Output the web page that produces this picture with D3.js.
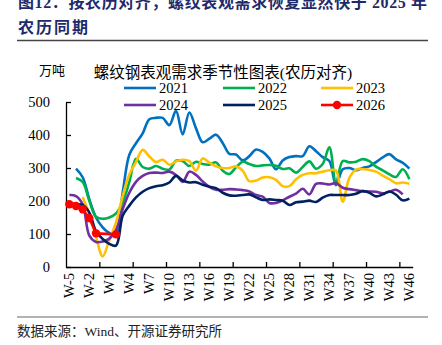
<!DOCTYPE html>
<html>
<head>
<meta charset="utf-8">
<script src="https://cdn.jsdelivr.net/npm/d3@7"></script>
<style>
	body { margin: 0; background: #fff; }
	svg { display: block; }
	text { font-family: "Liberation Serif", "Noto Sans CJK SC", serif; }
	.axis path, .axis line { stroke: #000; stroke-width: 1.3; }
	.axis text { font-size: 14.5px; fill: #000; }
</style>
</head>
<body>
<svg id="svg"></svg>
<script>
// categories: lunar-aligned weeks W-5 .. W46 (W0 included)
const categories = d3.range(-5, 47).map(k => 'W' + k)
const yTicks = [0, 100, 200, 300, 400, 500]

// 万吨, one value per week, null = no data
const s2021 = [null, 298, 272, 205, 150, 120, 103, 100, 225, 340, 375, 405, 448, 452, 452, 430, 473, 402, 468, 420,
	378, 389, 401, 376, 343, 341, 323, 336, 356, 349, 329, 296, 323, 333, 336, 336, 366, 351, 333, 321,
	248, 296, 300, 293, 300, 305, 318, 332, 342, 326, 316, 298]
const s2022 = [null, 270, 258, 200, 152, 146, 150, 162, 195, 258, 328, 303, 298, 306, 298, 295, 322, 321, 306, 319,
	312, 310, 317, 292, 282, 302, 319, 312, 306, 308, 309, 307, 297, 299, 286, 303, 320, 298, 312, 363,
	255, 321, 317, 319, 327, 321, 304, 293, 281, 273, 296, 266]
const s2023 = [null, null, 212, 160, 92, 32, 82, 135, 215, 280, 318, 355, 335, 318, 325, 310, 320, 325, 321, 292,
	329, 316, 305, 300, 300, 305, 292, 260, 262, 271, 272, 264, 245, 245, 266, 279, 284, 284, 289, 293,
	292, 198, 270, 295, 297, 294, 289, 277, 266, 254, 256, 252]
const s2024 = [218, 215, 190, 95, 76, 77, 86, 112, 175, 225, 258, 276, 285, 286, 285, 289, 279, 258, 289, 279,
	259, 243, 234, 234, 236, 235, 233, 229, 218, 213, 194, 194, 202, 213, 222, 237, 220, 252, 253, 250,
	254, 240, 236, 233, 230, 229, 228, 223, 228, 234, 220, null]
const s2025 = [193, 190, 188, 165, 108, 85, 70, 65, 155, 186, 211, 228, 239, 245, 248, 256, 276, 262, 256, 257,
	249, 243, 239, 225, 217, 216, 218, 220, 211, 203, 205, 203, 201, 188, 196, 198, 201, 197, 210, 218,
	218, 218, 218, 222, 230, 225, 214, 220, 229, 219, 202, 207]
const s2026 = [190, 185, 175, 148, 102, null, null, 99]

const series = [
	{name: '2021', values: s2021, color: '#0070C0'},
	{name: '2022', values: s2022, color: '#00B050'},
	{name: '2023', values: s2023, color: '#FFC000'},
	{name: '2024', values: s2024, color: '#7030A0'},
	{name: '2025', values: s2025, color: '#002060'},
	{name: '2026', values: s2026, color: '#FF0000', dots: true},
]

const W = 442, H = 345
const plot = {left: 66, right: 412.7, top: 102, bottom: 267}

const svg = d3.select('#svg').attr('width', W).attr('height', H)

// header
svg.append('text')
	.attr('x', 18).attr('y', 8)
	.attr('font-size', 16).attr('font-weight', 'bold').attr('fill', '#1F2A6B')
	.attr('textLength', 409).attr('lengthAdjust', 'spacing')
	.text('图12：按农历对齐，螺纹表观需求恢复显然快于 2025 年')
svg.append('text')
	.attr('x', 18).attr('y', 33)
	.attr('font-size', 16).attr('font-weight', 'bold').attr('fill', '#1F2A6B')
	.attr('letter-spacing', 2)
	.text('农历同期')
svg.append('line')
	.attr('x1', 17).attr('x2', 428).attr('y1', 40.5).attr('y2', 40.5)
	.attr('stroke', '#444').attr('stroke-width', 1.5)

svg.append('line')
	.attr('x1', 17).attr('x2', 428).attr('y1', 317).attr('y2', 317)
	.attr('stroke', '#666').attr('stroke-width', 1.2)
svg.append('text')
	.attr('x', 17).attr('y', 336)
	.attr('font-size', 13.5).attr('fill', '#222')
	.text('数据来源：Wind、开源证券研究所')

// chart title, unit
svg.append('text')
	.attr('x', 223).attr('y', 78)
	.attr('text-anchor', 'middle').attr('font-size', 15.5)
	.text('螺纹钢表观需求季节性图表(农历对齐)')
svg.append('text')
	.attr('x', 39).attr('y', 75)
	.attr('font-size', 13)
	.text('万吨')

// scales
const x = d3.scaleBand().domain(categories).range([plot.left, plot.right]).padding(0)
const xi = d3.scaleLinear().domain([0, categories.length]).range([plot.left, plot.right])
const y = d3.scaleLinear().domain([0, 500]).range([plot.bottom, plot.top])
const cx = c => x(c) + x.bandwidth() / 2

// y axis, ticks pointing inward
svg.append('g')
	.attr('class', 'axis')
	.attr('transform', `translate(${plot.left},0)`)
	.call(d3.axisLeft(y).tickValues(yTicks).tickSizeInner(-5).tickSizeOuter(0).tickPadding(16))

// x axis: tick marks every 5 weeks
svg.append('g')
	.attr('class', 'axis')
	.attr('transform', `translate(0,${plot.bottom})`)
	.call(d3.axisBottom(xi).tickValues(d3.range(5, categories.length, 5)).tickSizeInner(-5).tickSizeOuter(0).tickFormat(''))

// x labels every 3 weeks, rotated
const xl = svg.append('g')
	.attr('class', 'axis')
	.attr('transform', `translate(0,${plot.bottom})`)
	.call(d3.axisBottom(x).tickValues(categories.filter((d, i) => i % 3 === 0)).tickSize(0))
xl.select('.domain').remove()
xl.selectAll('text')
	.attr('transform', 'rotate(-90)')
	.attr('x', -6).attr('y', 0).attr('dy', '0.35em')
	.attr('text-anchor', 'end')

// series
const smooth = d3.line()
	.curve(d3.curveCatmullRom.alpha(0.5))
	.x(d => cx(d.c)).y(d => y(d.v))
const straight = d3.line()
	.x(d => cx(d.c)).y(d => y(d.v))

series.forEach(s => {
	const pts = s.values.map((v, i) => ({c: categories[i], v})).filter(d => d.v != null)
	svg.append('path')
		.datum(pts)
		.attr('fill', 'none')
		.attr('stroke', s.color)
		.attr('stroke-width', 2.6)
		.attr('stroke-linejoin', 'round')
		.attr('d', s.dots ? straight : smooth)
	if (s.dots) {
		svg.selectAll('circle.dot')
			.data(pts).enter()
			.append('circle')
			.attr('class', 'dot')
			.attr('cx', d => cx(d.c))
			.attr('cy', d => y(d.v))
			.attr('r', 4.2)
			.attr('fill', s.color)
	}
})

// legend
const legPos = [[124, 88], [223, 88], [321, 88], [124, 105], [223, 105], [321, 105]]
const leg = svg.append('g')
series.forEach((s, i) => {
	const [lx, ly] = legPos[i]
	leg.append('line')
		.attr('x1', lx).attr('x2', lx + 32).attr('y1', ly).attr('y2', ly)
		.attr('stroke', s.color).attr('stroke-width', 2.6)
	if (s.dots) {
		leg.append('circle').attr('cx', lx + 16).attr('cy', ly).attr('r', 4.2).attr('fill', s.color)
	}
	leg.append('text')
		.attr('x', lx + 35).attr('y', ly).attr('dy', '0.35em')
		.attr('font-size', 14.5)
		.text(s.name)
})
</script>
</body>
</html>
